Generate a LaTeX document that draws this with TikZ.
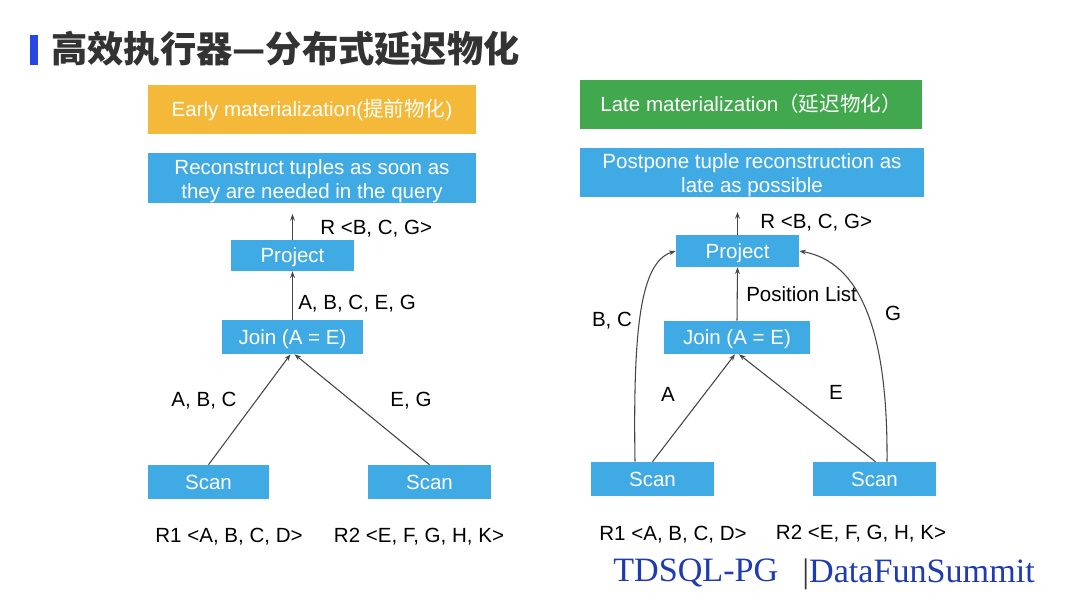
\documentclass[tikz,border=0pt]{standalone}
\usepackage{fontspec}
\setmainfont{Liberation Sans}
\newfontfamily\cjk{Noto Sans CJK SC}
\newfontfamily\footfont{Liberation Serif}
\usetikzlibrary{arrows.meta,calc}
\definecolor{boxblue}{RGB}{64,170,228}
\definecolor{boxorange}{RGB}{245,185,58}
\definecolor{boxgreen}{RGB}{66,168,78}
\definecolor{titlegray}{RGB}{51,51,51}
\definecolor{titleblue}{RGB}{40,70,230}
\definecolor{footblue}{RGB}{30,60,175}
\definecolor{arrowgray}{RGB}{70,70,70}
\tikzset{
  opbox/.style={fill=boxblue,text=white,inner sep=0pt,font=\fontsize{15.4}{18}\selectfont,text height=11pt,text depth=0pt},
  twoline/.style={fill=boxblue,text=white,inner sep=0pt,align=center,font=\fontsize{15.4}{18}\selectfont,yshift=-2.2pt},
  headbox/.style={inner sep=0pt,text=white,font=\fontsize{15.4}{18}\selectfont,text height=11pt,text depth=0pt},
  lbl/.style={inner sep=0pt,text=black,font=\fontsize{15.4}{18}\selectfont,text height=11pt,text depth=0pt},
  flow/.style={draw=arrowgray,line width=0.8pt,-{Stealth[length=5pt,width=3.6pt]}},
}
\begin{document}
\begin{tikzpicture}[x=0.75pt,y=-0.75pt]
\useasboundingbox[fill=white] (0,0) rectangle (1080,609);
% title
\fill[titleblue] (30,35) rectangle (38,65);
\node[anchor=west,inner sep=0pt,text=titlegray,font=\cjk\bfseries\fontsize{27.2}{30}\selectfont] (title) at (51,49) {高效执行器—分布式延迟物化};

% ---------- left: early materialization
\node[headbox,fill=boxorange,minimum width=328*0.75pt,minimum height=49*0.75pt] (early) at (312,109.5) {Early materialization({\cjk 提前物化})};
\fill[boxblue] (148,153) rectangle (476,203);
\node[twoline] (recon) at (312,178) {Reconstruct tuples as soon as\\they are needed in the query};
\node[opbox,minimum width=123*0.75pt,minimum height=31*0.75pt] (projL) at (292.5,255.5) {Project};
\node[opbox,minimum width=141*0.75pt,minimum height=34*0.75pt] (joinL) at (292.5,337) {Join (A = E)};
\node[opbox,minimum width=121*0.75pt,minimum height=34*0.75pt] (scanLL) at (208.5,482) {Scan};
\node[opbox,minimum width=123*0.75pt,minimum height=34*0.75pt] (scanLR) at (429.5,482) {Scan};
\coordinate (outL) at (292.5,214);
\draw[flow] (projL.north) -- (outL);
\draw[flow] (joinL.north) -- (projL.south);
\draw[flow] (scanLL.north) -- ($(joinL.south)+(-2,0)$);
\draw[flow] (scanLR.north) -- ($(joinL.south)+(2,0)$);
\node[lbl,anchor=west] (lRL) at (320,227) {R <B, C, G>};
\node[lbl,anchor=west] (lJP) at (298,302) {A, B, C, E, G};
\node[lbl] (lABC) at (204,399) {A, B, C};
\node[lbl] (lEG) at (411,399) {E, G};
\node[lbl] (r1L) at (229,535) {R1 <A, B, C, D>};
\node[lbl] (r2L) at (419,535) {R2 <E, F, G, H, K>};

% ---------- right: late materialization
\node[headbox,fill=boxgreen,minimum width=342*0.75pt,minimum height=49*0.75pt] (late) at (751,104.5) {Late materialization{\cjk （延迟物化）}};
\fill[boxblue] (580,148) rectangle (924,197);
\node[twoline] (post) at (752,172.5) {Postpone tuple reconstruction as\\late as possible};
\node[opbox,minimum width=123*0.75pt,minimum height=32*0.75pt] (projR) at (737.5,251) {Project};
\node[opbox,minimum width=146*0.75pt,minimum height=33*0.75pt] (joinR) at (737,337.5) {Join (A = E)};
\node[opbox,minimum width=123*0.75pt,minimum height=34*0.75pt] (scanRL) at (652.5,479) {Scan};
\node[opbox,minimum width=123*0.75pt,minimum height=34*0.75pt] (scanRR) at (874.5,479) {Scan};
\coordinate (outR) at (737.5,212);
\draw[flow] (projR.north) -- (outR);
\draw[flow] (joinR.north) -- (projR.south);
\draw[flow] (scanRL.north) -- ($(joinR.south)+(-2,0)$);
\draw[flow] ($(scanRR.north)+(1,0)$) -- ($(joinR.south)+(2,0)$);
\draw[flow] ($(scanRL.north)+(-17.5,0)$) .. controls (633,330) and (640,262) .. (projR.west);
\draw[flow] ($(scanRR.north)+(12.5,0)$) .. controls (888,330) and (860,262) .. (projR.east);
\node[lbl,anchor=west] (lRR) at (760,221) {R <B, C, G>};
\node[lbl,anchor=west] (lPL) at (746,294) {Position List};
\node[lbl] (lBC) at (612,319) {B, C};
\node[lbl] (lG) at (893,313) {G};
\node[lbl] (lA) at (668,394) {A};
\node[lbl] (lE) at (836,392) {E};
\node[lbl] (r1R) at (673,533) {R1 <A, B, C, D>};
\node[lbl] (r2R) at (861,532) {R2 <E, F, G, H, K>};

% footer
\node[anchor=west,inner sep=0pt,text=footblue,font=\footfont\fontsize{25.6}{28}\selectfont] (foot1) at (613,573) {TDSQL-PG};
\node[anchor=west,inner sep=0pt,text=footblue,font=\footfont\fontsize{25.6}{28}\selectfont] (foot2) at (802,574) {{\color{titlegray}|}DataFunSummit};
\end{tikzpicture}
\end{document}
